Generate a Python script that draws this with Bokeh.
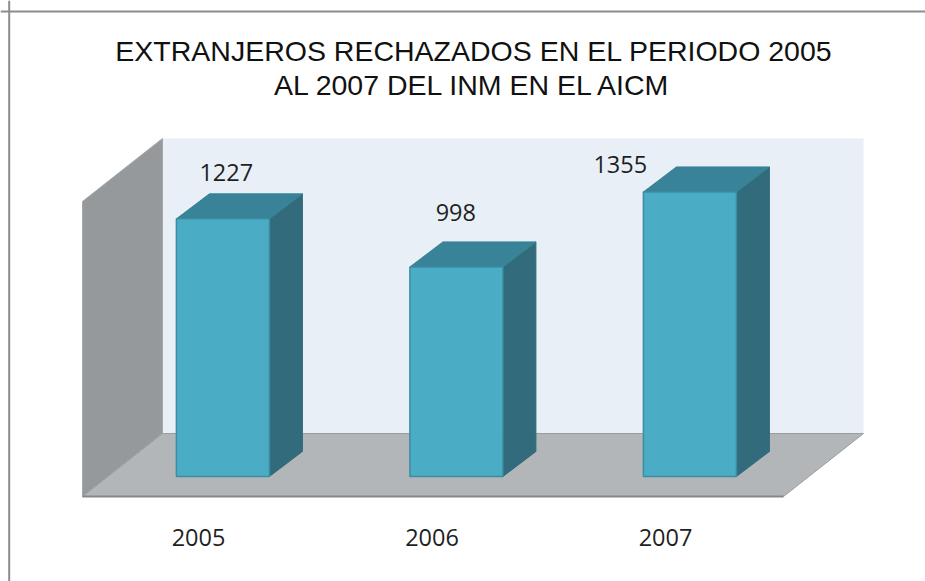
from bokeh.plotting import figure
from bokeh.models import Range1d, Span
from bokeh.core.properties import value
from bokeh.embed import file_html
from bokeh.resources import INLINE

TITLE_LINES = ["EXTRANJEROS RECHAZADOS EN EL PERIODO 2005", "AL 2007 DEL INM EN EL AICM"]
YEARS = ["2005", "2006", "2007"]
REJECTED = [1227, 998, 1355]
AXIS_MAX = 1405

W, H = 925, 581
PX_PER_CAT = 233.5
PX_PER_UNIT = 0.21
ORIGIN_X, ORIGIN_Y = 222.4, 476   # first category / zero, inside the figure


def dx(px):
    return px / PX_PER_CAT


def dy(px):
    return px / PX_PER_UNIT


def page_x(px):
    return dx(px - ORIGIN_X)


def page_y(px):
    return dy(ORIGIN_Y - px)


p = figure(width=W, height=H, output_backend="svg", toolbar_location=None,
           x_axis_type=None, y_axis_type=None, min_border=0,
           x_range=Range1d(dx(-ORIGIN_X), dx(W - ORIGIN_X)),
           y_range=Range1d(dy(ORIGIN_Y - H), dy(ORIGIN_Y)))
p.grid.visible = False
p.outline_line_color = None
p.background_fill_color = "white"
p.border_fill_color = "white"

cats = list(range(len(YEARS)))

# chart border (top and left edge only are in view)
p.add_layout(Span(location=page_y(11), dimension="width", line_color="#8c8c8c", line_width=2))
p.add_layout(Span(location=page_x(8.7), dimension="height", line_color="#8c8c8c", line_width=2))

# walls and floor
left = page_x(82)
right_front = page_x(783)
front = page_y(496)
depth_x, depth_y = dx(80), dy(63)
wall_h = AXIS_MAX
back_bottom = front + depth_y
back_top = back_bottom + wall_h
p.quad(left=[left + depth_x], right=[right_front + depth_x], bottom=[back_bottom], top=[back_top],
       fill_color="#E9EFF6", line_color=None)
p.patch([left, left + depth_x, left + depth_x, left],
        [front, back_bottom, back_top, front + wall_h],
        fill_color="#95999B", line_color="#A4A8AA", line_width=1)
p.patch([left, left + depth_x, right_front + depth_x, right_front],
        [front, back_bottom, back_bottom, front],
        fill_color="#B2B6B9", line_color="#9A9EA0", line_width=1)
p.line([left, right_front], [front, front], line_color="#85888A", line_width=2)

# 3-D bars
half = dx(46.5)
bar_dx, bar_dy = dx(33), dy(25)
side_xs = [[c + half, c + half + bar_dx, c + half + bar_dx, c + half] for c in cats]
side_ys = [[0, bar_dy, v + bar_dy, v] for v in REJECTED]
top_xs = [[c - half, c - half + bar_dx, c + half + bar_dx, c + half] for c in cats]
top_ys = [[v, v + bar_dy, v + bar_dy, v] for v in REJECTED]
p.patches(side_xs, side_ys, fill_color="#316B7C", line_color="#316B7C", line_width=1)
p.patches(top_xs, top_ys, fill_color="#388397", line_color="#388397", line_width=1)
p.vbar(x=cats, top=REJECTED, bottom=0, width=2 * half, fill_color="#4BACC6",
       line_color="#3C8DA3", line_width=1.5)

# value labels, hand-placed in the original
label_dx = [3.4, -0.6, -69.6]
label_dy = [46, 54, 27]
p.text(x=[c + dx(o) for c, o in zip(cats, label_dx)],
       y=[v + dy(o) for v, o in zip(REJECTED, label_dy)],
       text=[str(v) for v in REJECTED], text_align="center", text_baseline="middle",
       text_font=value("Open Sans"), text_font_size="23.5px", text_color="#1f1f1f")

# category labels
p.text(x=[c + dx(-24.4) for c in cats], y=[page_y(537)] * len(cats), text=YEARS,
       text_align="center", text_baseline="middle",
       text_font=value("Open Sans"), text_font_size="23.5px", text_color="#1f1f1f")

# title
p.text(x=[page_x(473.5), page_x(473)], y=[page_y(50), page_y(84)], text=TITLE_LINES,
       text_align="center", text_baseline="middle",
       text_font=value("Liberation Sans"), text_font_size="28.5px", text_color="#111111")

open("out.html", "w").write(file_html(p, INLINE))
